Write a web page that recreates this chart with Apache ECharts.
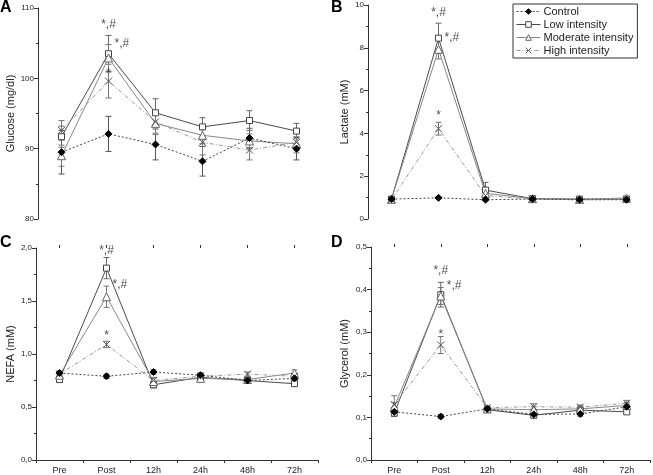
<!DOCTYPE html>
<html>
<head>
<meta charset="utf-8">
<script src="https://cdn.jsdelivr.net/npm/echarts@6/dist/echarts.min.js"></script>
<style>
html,body{margin:0;padding:0;background:#fff;}
#chart{width:653px;height:475px;}
</style>
</head>
<body>
<div id="chart"></div>
<script>
// ---------- DATA ----------
const categories = ['Pre', 'Post', '12h', '24h', '48h', '72h'];
const seriesNames = ['Control', 'Low intensity', 'Moderate intensity', 'High intensity'];

// Panel A: Glucose (mg/dl)
const glucoseControl  = [89.5, 92.1, 90.6, 88.2, 91.5, 90.0];
const glucoseLow      = [91.7, 103.5, 95.1, 93.1, 94.0, 92.5];
const glucoseModerate = [89.0, 102.9, 93.6, 91.9, 91.1, 90.7];
const glucoseHigh     = [92.6, 99.6, 93.8, 90.9, 89.8, 90.9];
const glucoseControlErr  = [3.1, 2.5, 2.2, 2.1, 1.4, 1.6];
const glucoseLowErr      = [1.5, 2.6, 2.0, 1.3, 1.4, 1.1];
const glucoseModerateErr = [1.5, 1.9, 1.6, 1.2, 1.0, 1.0];
const glucoseHighErr     = [1.4, 2.4, 1.6, 1.8, 1.4, 1.5];

// Panel B: Lactate (mM)
const lactateControl  = [0.93, 0.99, 0.90, 0.93, 0.90, 0.90];
const lactateLow      = [0.93, 8.45, 1.35, 0.95, 0.93, 0.93];
const lactateModerate = [0.92, 7.93, 1.20, 0.95, 0.92, 0.98];
const lactateHigh     = [0.90, 4.22, 1.10, 0.93, 0.90, 0.92];
const lactateControlErr  = [0.04, 0.04, 0.04, 0.04, 0.04, 0.04];
const lactateLowErr      = [0.08, 0.70, 0.36, 0.05, 0.05, 0.05];
const lactateModerateErr = [0.08, 0.45, 0.20, 0.05, 0.05, 0.08];
const lactateHighErr     = [0.05, 0.30, 0.15, 0.05, 0.05, 0.05];

// Panel C: NEFA (mM)
const nefaControl  = [0.82, 0.79, 0.83, 0.80, 0.75, 0.77];
const nefaLow      = [0.76, 1.81, 0.71, 0.78, 0.75, 0.72];
const nefaModerate = [0.80, 1.54, 0.74, 0.77, 0.76, 0.82];
const nefaHigh     = [0.81, 1.09, 0.75, 0.79, 0.81, 0.79];
const nefaControlErr  = [0.02, 0.02, 0.02, 0.02, 0.02, 0.02];
const nefaLowErr      = [0.03, 0.10, 0.03, 0.03, 0.02, 0.02];
const nefaModerateErr = [0.03, 0.10, 0.03, 0.03, 0.02, 0.03];
const nefaHighErr     = [0.02, 0.03, 0.03, 0.03, 0.02, 0.03];

// Panel D: Glycerol (mM)
const glycerolControl  = [0.113, 0.102, 0.120, 0.107, 0.108, 0.125];
const glycerolLow      = [0.110, 0.388, 0.118, 0.105, 0.117, 0.113];
const glycerolModerate = [0.125, 0.385, 0.120, 0.118, 0.120, 0.128];
const glycerolHigh     = [0.130, 0.270, 0.123, 0.125, 0.124, 0.133];
const glycerolControlErr  = [0.006, 0.004, 0.004, 0.005, 0.005, 0.006];
const glycerolLowErr      = [0.008, 0.029, 0.005, 0.006, 0.005, 0.005];
const glycerolModerateErr = [0.010, 0.020, 0.005, 0.007, 0.006, 0.007];
const glycerolHighErr     = [0.021, 0.020, 0.005, 0.007, 0.005, 0.007];

// Significance annotations: [category, value, text]
const glucoseAnnotAbove  = [['Post', 107.6, '*,#'], ['Post', 100.7, '*']];
const glucoseAnnotRight  = [['Post', 104.9, '*,#']];
const lactateAnnotAbove  = [['Post', 9.65, '*,#'], ['Post', 4.85, '*']];
const lactateAnnotRight  = [['Post', 8.45, '*,#']];
const nefaAnnotAbove     = [['Post', 1.97, '*,#'], ['Post', 1.17, '*']];
const nefaAnnotRight     = [['Post', 1.65, '*,#']];
const glycerolAnnotAbove = [['Post', 0.445, '*,#'], ['Post', 0.293, '*']];
const glycerolAnnotRight = [['Post', 0.41, '*,#']];

// Axis ranges / titles
const panelLetters = ['A', 'B', 'C', 'D'];
const axisTitles = ['Glucose (mg/dl)', 'Lactate (mM)', 'NEFA (mM)', 'Glycerol (mM)'];
const yMins = [80, 0, 0, 0];
const yMaxs = [110, 10, 2, 0.5];
const yIntervals = [10, 2, 0.5, 0.1];

// ---------- CHART ----------
const panels = [
  {vals: [glucoseControl, glucoseLow, glucoseModerate, glucoseHigh],
   errs: [glucoseControlErr, glucoseLowErr, glucoseModerateErr, glucoseHighErr],
   above: glucoseAnnotAbove, right: glucoseAnnotRight, comma: false},
  {vals: [lactateControl, lactateLow, lactateModerate, lactateHigh],
   errs: [lactateControlErr, lactateLowErr, lactateModerateErr, lactateHighErr],
   above: lactateAnnotAbove, right: lactateAnnotRight, comma: false},
  {vals: [nefaControl, nefaLow, nefaModerate, nefaHigh],
   errs: [nefaControlErr, nefaLowErr, nefaModerateErr, nefaHighErr],
   above: nefaAnnotAbove, right: nefaAnnotRight, comma: true},
  {vals: [glycerolControl, glycerolLow, glycerolModerate, glycerolHigh],
   errs: [glycerolControlErr, glycerolLowErr, glycerolModerateErr, glycerolHighErr],
   above: glycerolAnnotAbove, right: glycerolAnnotRight, comma: true}
];

const grids = [
  {left: 38, top: 8, width: 282, height: 211},
  {left: 368, top: 5, width: 282, height: 214},
  {left: 36, top: 248, width: 282, height: 212},
  {left: 371, top: 247, width: 279, height: 214}
];
const nameGaps = [22, 18, 20, 21];
const letterPos = [[0, 0], [331, 0], [0, 235], [331, 235]];

const axisColor = '#333';
const textColor = '#222';
const FONT = 'Liberation Sans, Arial, sans-serif';

const styles = [
  {color: '#444', lineType: [2, 2], symbol: 'diamond', symbolSize: 7, fill: '#000', border: '#000', err: '#555'},
  {color: '#4a4a4a', lineType: 'solid', symbol: 'rect', symbolSize: 6, fill: '#fff', border: '#444', err: '#666'},
  {color: '#888', lineType: 'solid', symbol: 'triangle', symbolSize: 8, fill: '#fff', border: '#666', err: '#777'},
  {color: '#999', lineType: [4, 2, 1, 2], symbol: 'path://M0,0L10,10M10,0L0,10', symbolSize: 7, fill: 'none', border: '#555', err: '#777'}
];

const xAxes = [], yAxes = [], series = [];
panels.forEach((p, i) => {
  const bottom = i >= 2;
  xAxes.push({
    type: 'category', data: categories, gridIndex: i, show: bottom,
    boundaryGap: true,
    axisLine: {show: true, lineStyle: {color: axisColor, width: 1}},
    axisTick: {show: true, alignWithLabel: false, inside: false, length: 3, lineStyle: {color: axisColor}},
    axisLabel: {show: true, fontSize: 9, color: textColor, fontFamily: FONT, margin: 6}
  });
  xAxes.push({
    type: 'category', data: categories, gridIndex: i, show: bottom,
    boundaryGap: true,
    axisLine: {show: false},
    axisTick: {show: true, alignWithLabel: true, length: 3, lineStyle: {color: axisColor}},
    axisLabel: {show: false}
  });
  yAxes.push({
    type: 'value', gridIndex: i, min: yMins[i], max: yMaxs[i], interval: yIntervals[i],
    name: axisTitles[i], nameLocation: 'middle', nameGap: nameGaps[i],
    nameTextStyle: {fontSize: 11, color: textColor, fontFamily: FONT},
    axisLine: {show: true, lineStyle: {color: axisColor, width: 1}},
    axisTick: {show: true, length: 4, lineStyle: {color: axisColor}},
    minorTick: {show: true, splitNumber: 2, length: 2, lineStyle: {color: axisColor}},
    splitLine: {show: false},
    axisLabel: {fontSize: 8, color: textColor, fontFamily: FONT, margin: 4,
      formatter: v => p.comma ? v.toFixed(1).replace('.', ',') : String(v)}
  });

  // error bars first (drawn under markers)
  p.vals.forEach((vals, s) => {
    const st = styles[s];
    const errData = vals.map((v, k) => [k, v - p.errs[s][k], v + p.errs[s][k]]);
    series.push({
      type: 'custom', xAxisIndex: 2 * i, yAxisIndex: i, silent: true, z: 1,
      data: errData,
      renderItem: (params, api) => {
        const x = api.value(0);
        const lo = api.coord([x, api.value(1)]);
        const hi = api.coord([x, api.value(2)]);
        const cw = 3;
        return {
          type: 'group',
          children: [
            {type: 'line', shape: {x1: lo[0], y1: lo[1], x2: hi[0], y2: hi[1]}, style: {stroke: st.err, lineWidth: 1}},
            {type: 'line', shape: {x1: lo[0] - cw, y1: lo[1], x2: lo[0] + cw, y2: lo[1]}, style: {stroke: st.err, lineWidth: 1}},
            {type: 'line', shape: {x1: hi[0] - cw, y1: hi[1], x2: hi[0] + cw, y2: hi[1]}, style: {stroke: st.err, lineWidth: 1}}
          ]
        };
      }
    });
  });

  p.vals.forEach((vals, s) => {
    const st = styles[s];
    series.push({
      name: seriesNames[s], type: 'line', xAxisIndex: 2 * i, yAxisIndex: i,
      data: vals, z: 3 + (s === 0 ? 1 : 0),
      symbol: st.symbol, symbolSize: st.symbolSize, showAllSymbol: true,
      lineStyle: {color: st.color, width: 1, type: st.lineType},
      itemStyle: {color: st.fill, borderColor: st.border, borderWidth: 1, opacity: 1},
      emphasis: {disabled: true}, animation: false
    });
  });

  const toPt = a => ({value: [categories.indexOf(a[0]), a[1]], txt: a[2]});
  series.push({
    type: 'scatter', xAxisIndex: 2 * i, yAxisIndex: i, symbolSize: 0, silent: true, z: 5,
    data: p.above.map(toPt),
    label: {show: true, position: 'inside', formatter: d => d.data.txt, fontSize: 12, color: textColor, fontFamily: FONT}
  });
  series.push({
    type: 'scatter', xAxisIndex: 2 * i, yAxisIndex: i, symbolSize: 0, silent: true, z: 5,
    data: p.right.map(toPt),
    label: {show: true, position: 'right', distance: 6, formatter: d => d.data.txt, fontSize: 12, color: textColor, fontFamily: FONT}
  });
});

const chart = echarts.init(document.getElementById('chart'), null, {renderer: 'canvas'});
chart.setOption({
  animation: false,
  backgroundColor: '#fff',
  textStyle: {fontFamily: FONT},
  title: panelLetters.map((l, i) => ({
    text: l, left: letterPos[i][0], top: letterPos[i][1], padding: 0,
    textStyle: {fontSize: 16, fontWeight: 'bold', color: '#000', fontFamily: FONT}
  })),
  legend: {
    data: seriesNames, orient: 'vertical', left: 513, top: 4,
    borderColor: '#333', borderWidth: 1, padding: [2, 4, 2, 3], itemGap: 2,
    itemWidth: 24, itemHeight: 7,
    lineStyle: {width: 1},
    itemStyle: {borderWidth: 1},
    textStyle: {fontSize: 11, color: textColor, fontFamily: FONT, padding: [0, 0, 0, -2]}
  },
  grid: grids,
  xAxis: xAxes,
  yAxis: yAxes,
  series: series
});
</script>
</body>
</html>
